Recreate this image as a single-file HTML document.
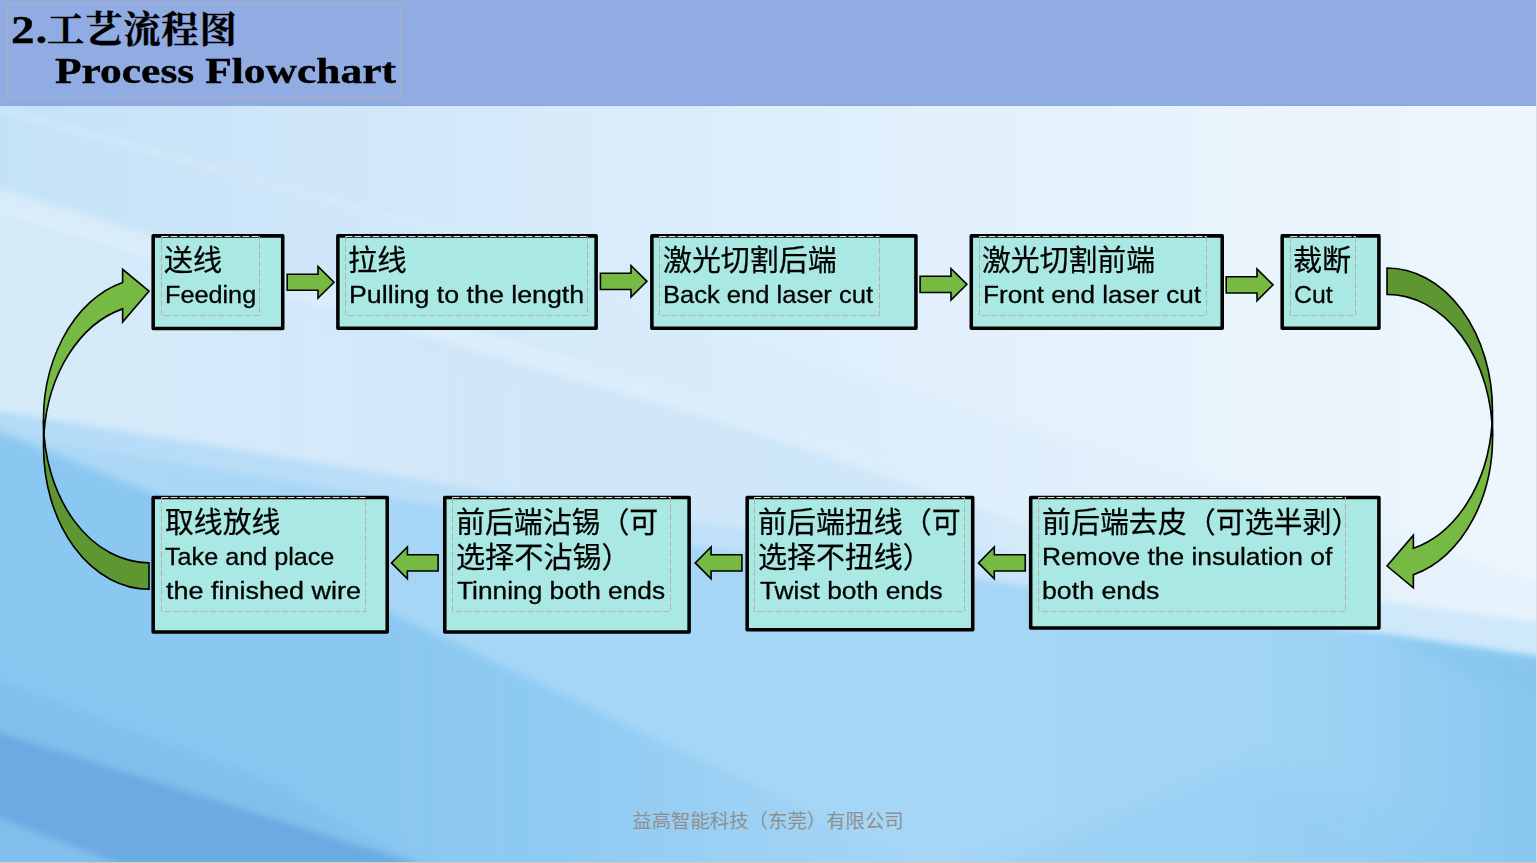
<!DOCTYPE html>
<html lang="zh-CN"><head><meta charset="utf-8"><title>2.工艺流程图 Process Flowchart</title>
<style>
html,body{margin:0;padding:0}
body{width:1537px;height:863px;position:relative;overflow:hidden;background:#cfe6f8;font-family:"Liberation Sans","Noto Sans CJK SC",sans-serif;color:#000}
#bg{position:absolute;left:0;top:0;width:1537px;height:863px}
#banner{position:absolute;left:0;top:0;width:1537px;height:105px;background:#91ace2;border-bottom:1px solid #8ba6dc}

.t1{position:absolute;left:10.6px;top:6px;letter-spacing:.7px;font:bold 37.4px/48px "Liberation Serif","Noto Serif CJK SC",serif;white-space:nowrap;-webkit-text-stroke:.3px #000}
.t1 b{display:inline-block;width:36.5px;font-size:40px;transform-origin:0 50%;transform:scaleX(1.18)}
.t2{position:absolute;left:55px;top:46.8px;font:bold 36.3px/48px "Liberation Serif","Noto Serif CJK SC",serif;white-space:nowrap;transform-origin:0 50%;transform:scaleX(1.198);-webkit-text-stroke:.4px #000}
.ln{position:absolute;white-space:nowrap;height:34.8px;line-height:34.8px;transform-origin:0 50%}
.zh{font-size:29.1px;-webkit-text-stroke:.25px #000;font-family:"Noto Sans CJK SC","Liberation Sans",sans-serif}
.en{font-size:24.8px;-webkit-text-stroke:.3px #000}
#arrows{position:absolute;left:0;top:0}
#foot{position:absolute;left:0;width:1536px;top:808.3px;text-align:center;font-size:19.4px;line-height:26px;color:#8f8f8f;font-family:"Liberation Sans","Noto Sans CJK SC",sans-serif}

</style></head><body>
<svg id="bg" width="1537" height="863" viewBox="0 0 1537 863">
<defs>
<linearGradient id="g0" x1="0" y1="0" x2="1537" y2="0" gradientUnits="userSpaceOnUse"><stop offset="0" stop-color="#c4e2f7"/><stop offset=".15" stop-color="#cce5f8"/><stop offset=".3" stop-color="#d4e9fa"/><stop offset=".5" stop-color="#ddeefb"/><stop offset=".75" stop-color="#e7f3fc"/><stop offset="1" stop-color="#edf6fd"/></linearGradient>
<linearGradient id="g1" x1="0" y1="0" x2="1537" y2="0" gradientUnits="userSpaceOnUse"><stop offset="0" stop-color="#aed9f6"/><stop offset=".27" stop-color="#a6d6f6"/><stop offset=".65" stop-color="#a6d6f6"/><stop offset=".8" stop-color="#a3d5f6"/><stop offset=".88" stop-color="#9bd1f4"/><stop offset=".94" stop-color="#91ccf2"/><stop offset="1" stop-color="#88c7f0"/></linearGradient>
<linearGradient id="g2" x1="0" y1="0" x2="950" y2="0" gradientUnits="userSpaceOnUse"><stop offset="0" stop-color="#8ac7f1"/><stop offset=".42" stop-color="#8bc8f1"/><stop offset=".6" stop-color="#8ecaf2" stop-opacity=".95"/><stop offset="1" stop-color="#97cef3" stop-opacity="0"/></linearGradient>
<linearGradient id="gs" x1="0" y1="0" x2="900" y2="0" gradientUnits="userSpaceOnUse"><stop offset="0" stop-color="#fff" stop-opacity=".32"/><stop offset=".5" stop-color="#fff" stop-opacity=".22"/><stop offset="1" stop-color="#fff" stop-opacity="0"/></linearGradient>
<filter id="b14" x="-10%" y="-20%" width="120%" height="140%"><feGaussianBlur stdDeviation="14"/></filter>
<filter id="b8" x="-10%" y="-20%" width="120%" height="140%"><feGaussianBlur stdDeviation="8"/></filter>
<filter id="b5" x="-5%" y="-10%" width="110%" height="120%"><feGaussianBlur stdDeviation="4.5"/></filter>
<filter id="b3" x="-5%" y="-10%" width="110%" height="120%"><feGaussianBlur stdDeviation="3"/></filter>
<linearGradient id="gm" x1="0" y1="0" x2="1537" y2="0" gradientUnits="userSpaceOnUse"><stop offset="0" stop-color="#b2daf7" stop-opacity=".95"/><stop offset=".3" stop-color="#b6dcf7" stop-opacity=".8"/><stop offset=".47" stop-color="#b8ddf8" stop-opacity=".6"/><stop offset=".65" stop-color="#c0e1f8" stop-opacity=".55"/><stop offset="1" stop-color="#c6e4f9" stop-opacity=".7"/></linearGradient>
<linearGradient id="gl" x1="0" y1="0" x2="800" y2="0" gradientUnits="userSpaceOnUse"><stop offset="0" stop-color="#fff" stop-opacity=".3"/><stop offset=".5" stop-color="#fff" stop-opacity=".15"/><stop offset="1" stop-color="#fff" stop-opacity="0"/></linearGradient>
<linearGradient id="gfa" x1="0" y1="0" x2="1300" y2="0" gradientUnits="userSpaceOnUse"><stop offset="0" stop-color="#b9dcf6" stop-opacity="0"/><stop offset=".12" stop-color="#b9dcf6" stop-opacity=".05"/><stop offset=".35" stop-color="#b9dcf6" stop-opacity=".42"/><stop offset=".7" stop-color="#b9dcf6" stop-opacity=".42"/><stop offset="1" stop-color="#b9dcf6" stop-opacity="0"/></linearGradient>
</defs>
<rect x="0" y="0" width="1537" height="863" fill="url(#g0)"/>
<!-- diagonal facets -->
<polygon points="-20,194 413,329 740,427 920,488 1300,620 -20,620" fill="url(#gfa)" filter="url(#b3)"/>
<polygon points="300,200 718,331 1258,494 1600,600 1600,700 300,700" fill="#d2e8f9" opacity=".22" filter="url(#b3)"/>
<!-- lighten left-mid -->
<polygon points="-20,205 170,262 560,378 800,450 800,560 -20,560" fill="url(#gl)" filter="url(#b8)"/>
<!-- light streaks upper-left -->
<polygon points="-20,182 170,240 560,355 900,460 900,476 560,378 170,264 -20,208" fill="url(#gs)" filter="url(#b3)"/>
<polygon points="-20,101 330,198 700,300 330,202 -20,107" fill="#ffffff" opacity=".2" filter="url(#b3)"/>
<!-- medium zone -->
<polygon points="-60,401 0,411 460,486 720,525 1000,552 1237,586 1381,601 1537,622 1620,634 1620,720 -60,720" fill="url(#gm)" filter="url(#b3)"/>
<!-- light-blue body -->
<polygon points="-60,424 0,434 415,502 720,550 1000,582 1237,618 1381,633 1537,656 1620,668 1620,960 -60,960" fill="url(#g1)" filter="url(#b3)"/>
<!-- strong blue left body -->
<polygon points="-60,408 0,432 150,492 389,612 620,722 1000,900 -60,900" fill="url(#g2)" filter="url(#b5)"/>
<!-- bottom-left darker facets -->
<polygon points="-40,665 282,786 430,870 -40,870" fill="#79b6e8" opacity=".5" filter="url(#b8)"/>
<polygon points="-40,720 0,733 423,866 125,866 0,818 -40,800" fill="#69a9e0" opacity=".9" filter="url(#b3)"/>
<!-- bottom-right shading -->
<polygon points="1390,640 1560,668 1560,706 1480,680" fill="#86c4ee" opacity=".55" filter="url(#b5)"/>
<polygon points="900,900 1250,760 1620,900" fill="#8ac9f1" opacity=".35" filter="url(#b14)"/>

</svg>
<div id="banner"></div>
<div style="position:absolute;left:1536px;top:0;width:1px;height:863px;background:#d9dce4"></div><div style="position:absolute;left:0;top:862px;width:1537px;height:1px;background:#cccccc"></div>
<svg style="position:absolute;left:0;top:0" width="420" height="106"><rect x="7.5" y="3.5" width="393" height="94" fill="none" stroke="#b3b3b3" stroke-width="1" stroke-dasharray="7 2"/></svg>
<div class="t1"><b>2.</b>工艺流程图</div>
<div class="t2">Process Flowchart</div>
<svg id="arrows" width="1537" height="863" viewBox="0 0 1537 863">
<polygon points="287.2,274.2 318,274.2 318,266.45 334,282.25 318,298.05 318,290.3 287.2,290.3" fill="#76b943" stroke="#000" stroke-width="1.6" stroke-linejoin="miter"/>
<polygon points="600.4,273.25 631,273.25 631,265.55 646.9,281.35 631,297.15 631,289.45 600.4,289.45" fill="#76b943" stroke="#000" stroke-width="1.6" stroke-linejoin="miter"/>
<polygon points="920.1,276.25 951,276.25 951,268.55 966.9,284.35 951,300.15 951,292.45 920.1,292.45" fill="#76b943" stroke="#000" stroke-width="1.6" stroke-linejoin="miter"/>
<polygon points="1226.2,276.75 1257,276.75 1257,268.95 1273.1,284.85 1257,300.75 1257,292.95 1226.2,292.95" fill="#76b943" stroke="#000" stroke-width="1.6" stroke-linejoin="miter"/>
<polygon points="438.1,554.8 407.4,554.8 407.4,547.05 391.5,562.9 407.4,578.75 407.4,571 438.1,571" fill="#76b943" stroke="#000" stroke-width="1.6" stroke-linejoin="miter"/>
<polygon points="741.9,554.8 711.1,554.8 711.1,547.05 695.2,562.9 711.1,578.75 711.1,571 741.9,571" fill="#76b943" stroke="#000" stroke-width="1.6" stroke-linejoin="miter"/>
<polygon points="1025.25,554.8 994.3,554.8 994.3,547.05 978.5,562.9 994.3,578.75 994.3,571 1025.25,571" fill="#76b943" stroke="#000" stroke-width="1.6" stroke-linejoin="miter"/>
<path d="M1387,566.02 L1413.38,535.13 L1413.38,548.32 A105.5 142.42 0 0 0 1492.05,423.61 A105.5 142.42 0 0 1 1413.38,574.69 L1413.38,587.88 Z" fill="#76b943" stroke="#000" stroke-width="1.6" stroke-linejoin="miter"/>
<path d="M1492.5,436.79 A105.5 142.42 0 0 0 1387,294.38 L1387,268 A105.5 142.42 0 0 1 1492.5,410.42 Z" fill="#5e9632" stroke="#000" stroke-width="1.6" stroke-linejoin="miter"/>
<path d="M149,291.18 L122.62,322.07 L122.62,308.88 A105.5 142.42 0 0 0 43.95,433.59 A105.5 142.42 0 0 1 122.62,282.51 L122.62,269.32 Z" fill="#76b943" stroke="#000" stroke-width="1.6" stroke-linejoin="miter"/>
<path d="M43.5,420.41 A105.5 142.42 0 0 0 149,562.83 L149,589.2 A105.5 142.42 0 0 1 43.5,446.78 Z" fill="#5e9632" stroke="#000" stroke-width="1.6" stroke-linejoin="miter"/>
<rect x="153.18" y="235.88" width="129.55" height="92.65" fill="#aae9e3" stroke="#000" stroke-width="3.55" stroke-linejoin="round"/>
<path d="M161.5 236.5V315.5H259.5V236.5" fill="none" stroke="#b9b1af" stroke-width="1" stroke-dasharray="7 2"/>
<path d="M161.5 236.5H259.5" fill="none" stroke="#dedede" stroke-width="1" stroke-dasharray="7 2"/>
<rect x="337.88" y="235.88" width="258.25" height="92.35" fill="#aae9e3" stroke="#000" stroke-width="3.55" stroke-linejoin="round"/>
<path d="M345.5 236.5V315.5H587.5V236.5" fill="none" stroke="#b9b1af" stroke-width="1" stroke-dasharray="7 2"/>
<path d="M345.5 236.5H587.5" fill="none" stroke="#dedede" stroke-width="1" stroke-dasharray="7 2"/>
<rect x="651.88" y="235.88" width="264.05" height="92.35" fill="#aae9e3" stroke="#000" stroke-width="3.55" stroke-linejoin="round"/>
<path d="M659.5 236.5V315.5H879.5V236.5" fill="none" stroke="#b9b1af" stroke-width="1" stroke-dasharray="7 2"/>
<path d="M659.5 236.5H879.5" fill="none" stroke="#dedede" stroke-width="1" stroke-dasharray="7 2"/>
<rect x="971.27" y="235.88" width="250.95" height="92.35" fill="#aae9e3" stroke="#000" stroke-width="3.55" stroke-linejoin="round"/>
<path d="M979.5 236.5V315.5H1206.5V236.5" fill="none" stroke="#b9b1af" stroke-width="1" stroke-dasharray="7 2"/>
<path d="M979.5 236.5H1206.5" fill="none" stroke="#dedede" stroke-width="1" stroke-dasharray="7 2"/>
<rect x="1282.18" y="235.88" width="96.75" height="92.35" fill="#aae9e3" stroke="#000" stroke-width="3.55" stroke-linejoin="round"/>
<path d="M1290.5 236.5V315.5H1355.5V236.5" fill="none" stroke="#b9b1af" stroke-width="1" stroke-dasharray="7 2"/>
<path d="M1290.5 236.5H1355.5" fill="none" stroke="#dedede" stroke-width="1" stroke-dasharray="7 2"/>
<rect x="153.18" y="497.47" width="234.05" height="134.55" fill="#aae9e3" stroke="#000" stroke-width="3.55" stroke-linejoin="round"/>
<path d="M161.5 497.5V611.5H365.5V497.5" fill="none" stroke="#b9b1af" stroke-width="1" stroke-dasharray="7 2"/>
<path d="M161.5 497.5H365.5" fill="none" stroke="#dedede" stroke-width="1" stroke-dasharray="7 2"/>
<rect x="444.77" y="497.47" width="244.35" height="134.55" fill="#aae9e3" stroke="#000" stroke-width="3.55" stroke-linejoin="round"/>
<path d="M452.5 497.5V611.5H670.5V497.5" fill="none" stroke="#b9b1af" stroke-width="1" stroke-dasharray="7 2"/>
<path d="M452.5 497.5H670.5" fill="none" stroke="#dedede" stroke-width="1" stroke-dasharray="7 2"/>
<rect x="747.17" y="497.47" width="225.55" height="132.25" fill="#aae9e3" stroke="#000" stroke-width="3.55" stroke-linejoin="round"/>
<path d="M754.5 497.5V611.5H964.5V497.5" fill="none" stroke="#b9b1af" stroke-width="1" stroke-dasharray="7 2"/>
<path d="M754.5 497.5H964.5" fill="none" stroke="#dedede" stroke-width="1" stroke-dasharray="7 2"/>
<rect x="1030.68" y="497.47" width="348.25" height="130.55" fill="#aae9e3" stroke="#000" stroke-width="3.55" stroke-linejoin="round"/>
<path d="M1038.5 497.5V611.5H1345.5V497.5" fill="none" stroke="#b9b1af" stroke-width="1" stroke-dasharray="7 2"/>
<path d="M1038.5 497.5H1345.5" fill="none" stroke="#dedede" stroke-width="1" stroke-dasharray="7 2"/>
</svg>
<div class="ln zh" id="l0_0" style="left:164px;top:241.2px;transform:scaleX(1.0003)">送线</div>
<div class="ln en" id="l0_1" style="left:164.8px;top:278.1px;transform:scaleX(1.0174)">Feeding</div>
<div class="ln zh" id="l1_0" style="left:348.4px;top:241.2px;transform:scaleX(1.0096)">拉线</div>
<div class="ln en" id="l1_1" style="left:349px;top:278.1px;transform:scaleX(1.0798)">Pulling to the length</div>
<div class="ln zh" id="l2_0" style="left:662.6px;top:241.2px;transform:scaleX(0.9944)">激光切割后端</div>
<div class="ln en" id="l2_1" style="left:663.4px;top:278.1px;transform:scaleX(1.0295)">Back end laser cut</div>
<div class="ln zh" id="l3_0" style="left:982px;top:241.2px;transform:scaleX(0.9914)">激光切割前端</div>
<div class="ln en" id="l3_1" style="left:983px;top:278.1px;transform:scaleX(1.0551)">Front end laser cut</div>
<div class="ln zh" id="l4_0" style="left:1292.8px;top:241.2px;transform:scaleX(1.0008)">裁断</div>
<div class="ln en" id="l4_1" style="left:1293.6px;top:278.1px;transform:scaleX(1.0002)">Cut</div>
<div class="ln zh" id="l5_0" style="left:164.6px;top:502.7px;transform:scaleX(0.9914)">取线放线</div>
<div class="ln en" id="l5_1" style="left:165.4px;top:539.6px;transform:scaleX(1.0150)">Take and place</div>
<div class="ln en" id="l5_2" style="left:165.8px;top:574.4px;transform:scaleX(1.0877)">the finished wire</div>
<div class="ln zh" id="l6_0" style="left:456.2px;top:502.7px;transform:scaleX(0.9927)">前后端沾锡（可</div>
<div class="ln zh" id="l6_1" style="left:456.2px;top:537.5px;transform:scaleX(1.0010)">选择不沾锡）</div>
<div class="ln en" id="l6_2" style="left:457px;top:574.4px;transform:scaleX(1.0605)">Tinning both ends</div>
<div class="ln zh" id="l7_0" style="left:758.2px;top:502.7px;transform:scaleX(0.9951)">前后端扭线（可</div>
<div class="ln zh" id="l7_1" style="left:758.2px;top:537.5px;transform:scaleX(0.9952)">选择不扭线）</div>
<div class="ln en" id="l7_2" style="left:759.6px;top:574.4px;transform:scaleX(1.0601)">Twist both ends</div>
<div class="ln zh" id="l8_0" style="left:1042px;top:502.7px;transform:scaleX(0.9951)">前后端去皮（可选半剥）</div>
<div class="ln en" id="l8_1" style="left:1042px;top:539.6px;transform:scaleX(1.0635)">Remove the insulation of</div>
<div class="ln en" id="l8_2" style="left:1042px;top:574.4px;transform:scaleX(1.0780)">both ends</div>
<div id="foot">益高智能科技（东莞）有限公司</div>
</body></html>
